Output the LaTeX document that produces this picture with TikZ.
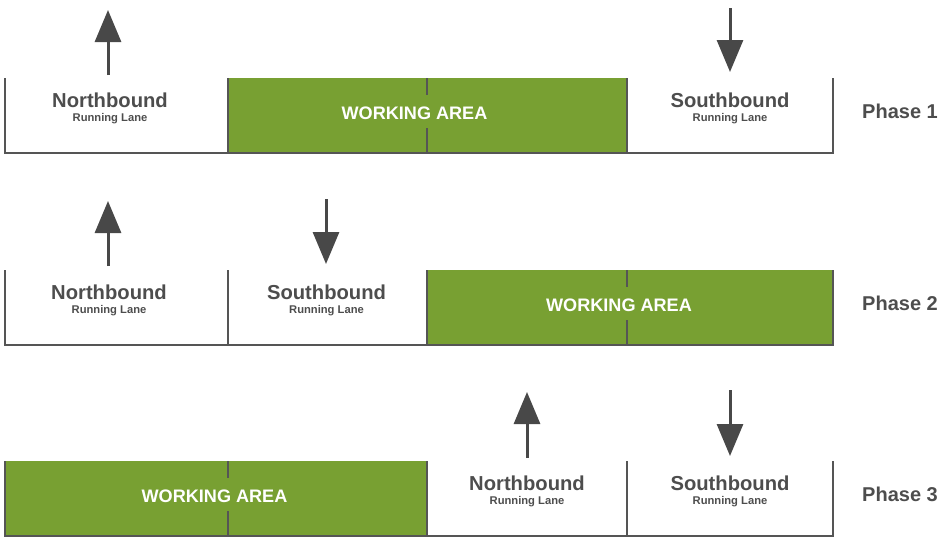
\documentclass[tikz,border=0pt]{standalone}
\usepackage{fontspec}
\setmainfont{Liberation Sans}
\usetikzlibrary{arrows.meta}
\definecolor{wgreen}{RGB}{120,160,50}
\definecolor{lgray}{RGB}{85,85,85}
\definecolor{agray}{RGB}{72,72,72}
\definecolor{tgray}{RGB}{77,77,77}
\begin{document}
\begin{tikzpicture}[x=1pt,y=-1pt,
  work/.style={fill=wgreen, draw=none, inner sep=0, outer sep=0, anchor=north west, minimum height=75pt},
  laneline/.style={draw=lgray, line width=2pt},
  dirarrow/.style={draw=agray, line width=3pt, -{Triangle[length=32pt,width=26pt]}},
  bigtxt/.style={font=\bfseries\fontsize{20.2}{21}\selectfont, text=tgray, anchor=base, inner sep=0},
  smalltxt/.style={font=\bfseries\fontsize{11.2}{12}\selectfont, text=tgray, anchor=base, inner sep=0},
  watxt/.style={font=\bfseries\fontsize{18.1}{19}\selectfont, text=white, anchor=base, inner sep=0},
  phasetxt/.style={font=\bfseries\fontsize{20}{21}\selectfont, text=tgray, anchor=base west, inner sep=0}]
\useasboundingbox (0,0) rectangle (946,538);

% ---------- Phase 1 ----------
\node[work, minimum width=399pt] (wa1) at (228,78) {};
\draw[laneline] (5,78) -- (5,153) -- (833,153) -- (833,78);
\draw[laneline] (228,78) -- (228,153);
\draw[laneline] (627,78) -- (627,153);
\draw[laneline] (427,78) -- (427,95);
\draw[laneline] (427,128) -- (427,153);
\node[watxt] (wt1) at (414.5,119) {WORKING AREA};
\node[bigtxt] (nb1) at (110,107) {Northbound};
\node[smalltxt] (nbs1) at (110,121) {Running Lane};
\node[bigtxt] (sb1) at (730,107) {Southbound};
\node[smalltxt] (sbs1) at (730,121) {Running Lane};
\node[phasetxt] (ph1) at (862,118) {Phase 1};
\coordinate (n1a) at (108,75); \coordinate (n1b) at (108,10);
\coordinate (s1a) at (730,8);  \coordinate (s1b) at (730,72);
\draw[dirarrow] (n1a) -- (n1b);
\draw[dirarrow] (s1a) -- (s1b);

% ---------- Phase 2 ----------
\node[work, minimum width=406pt] (wa2) at (427,270) {};
\draw[laneline] (5,270) -- (5,345) -- (833,345) -- (833,270);
\draw[laneline] (228,270) -- (228,345);
\draw[laneline] (427,270) -- (427,345);
\draw[laneline] (627,270) -- (627,287);
\draw[laneline] (627,320) -- (627,345);
\node[watxt] (wt2) at (619,311) {WORKING AREA};
\node[bigtxt] (nb2) at (109,299) {Northbound};
\node[smalltxt] (nbs2) at (109,313) {Running Lane};
\node[bigtxt] (sb2) at (326.5,299) {Southbound};
\node[smalltxt] (sbs2) at (326.5,313) {Running Lane};
\node[phasetxt] (ph2) at (862,310) {Phase 2};
\coordinate (n2a) at (108,266); \coordinate (n2b) at (108,201);
\coordinate (s2a) at (326,199); \coordinate (s2b) at (326,264);
\draw[dirarrow] (n2a) -- (n2b);
\draw[dirarrow] (s2a) -- (s2b);

% ---------- Phase 3 ----------
\node[work, minimum width=422pt] (wa3) at (5,461) {};
\draw[laneline] (5,461) -- (5,536) -- (833,536) -- (833,461);
\draw[laneline] (427,461) -- (427,536);
\draw[laneline] (627,461) -- (627,536);
\draw[laneline] (228,461) -- (228,478);
\draw[laneline] (228,511) -- (228,536);
\node[watxt] (wt3) at (214.5,502) {WORKING AREA};
\node[bigtxt] (nb3) at (527,490) {Northbound};
\node[smalltxt] (nbs3) at (527,504) {Running Lane};
\node[bigtxt] (sb3) at (730,490) {Southbound};
\node[smalltxt] (sbs3) at (730,504) {Running Lane};
\node[phasetxt] (ph3) at (862,501) {Phase 3};
\coordinate (n3a) at (527,458); \coordinate (n3b) at (527,392);
\coordinate (s3a) at (730,390); \coordinate (s3b) at (730,456);
\draw[dirarrow] (n3a) -- (n3b);
\draw[dirarrow] (s3a) -- (s3b);
\end{tikzpicture}
\end{document}
